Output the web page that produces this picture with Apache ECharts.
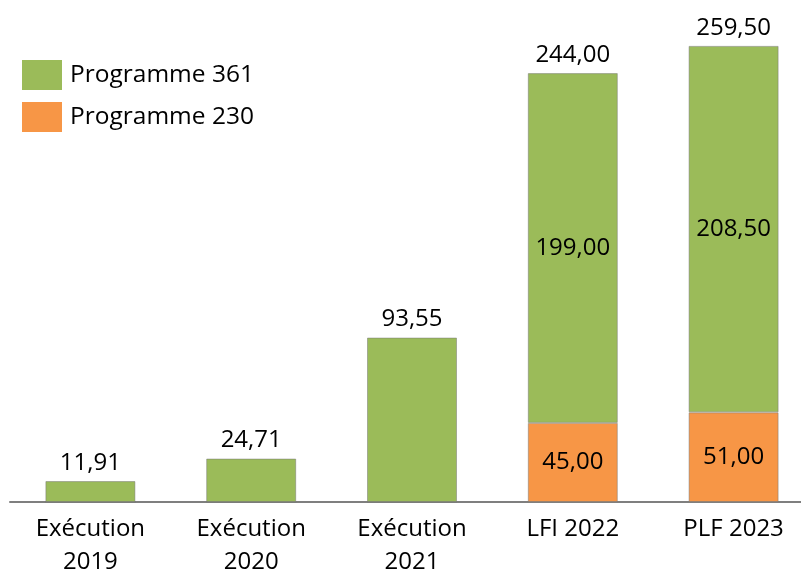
<!DOCTYPE html>
<html>
<head>
<meta charset="utf-8">
<script src="https://cdn.jsdelivr.net/npm/echarts@6/dist/echarts.min.js"></script>
<style>
  html, body { margin: 0; padding: 0; background: #fff; }
  #chart { width: 801px; height: 572px; }
</style>
</head>
<body>
<div id="chart"></div>
<script>
// données
var categories = ["Exécution\n2019", "Exécution\n2020", "Exécution\n2021", "LFI 2022", "PLF 2023"];
var prog230 = [0, 0, 0, 45.00, 51.00];
var prog361 = [11.91, 24.71, 93.55, 199.00, 208.50];
var totals = prog361.map(function (v, i) { return v + prog230[i]; });

function fr(v) {
  return v.toFixed(2).replace(".", ",");
}

var chart = echarts.init(document.getElementById("chart"));
var font = "'Open Sans', 'Noto Sans', sans-serif";

chart.setOption({
  animation: false,
  textStyle: { fontFamily: font },
  grid: { left: 10, top: 45, width: 804, height: 457, containLabel: false, outerBoundsMode: "none" },
  legend: {
    orient: "vertical",
    left: 22,
    top: 60,
    padding: 0,
    itemWidth: 40,
    itemHeight: 30,
    itemGap: 12,
    icon: "rect",
    data: ["Programme 361", "Programme 230"],
    itemStyle: { borderWidth: 0 },
    textStyle: { fontSize: 24.5, color: "#000", fontFamily: font, padding: [0, 0, 0, 3] }
  },
  xAxis: {
    type: "category",
    data: categories,
    axisTick: { show: false },
    axisLine: { lineStyle: { color: "#7f7f7f", width: 2 } },
    axisLabel: {
      fontSize: 24,
      lineHeight: 33,
      color: "#000",
      margin: 11,
      interval: 0,
      fontFamily: font
    }
  },
  yAxis: {
    type: "value",
    min: 0,
    max: 260,
    show: false,
    splitLine: { show: false }
  },
  series: [
    {
      name: "Programme 230",
      type: "bar",
      stack: "total",
      barWidth: 90,
      data: prog230,
      itemStyle: { color: "#F79646", borderColor: "rgba(120,120,120,0.5)", borderWidth: 1 },
      label: {
        show: true,
        position: "inside",
        fontSize: 24,
        color: "#000",
        fontFamily: font,
        formatter: function (p) { return p.value > 0 ? fr(p.value) : ""; }
      }
    },
    {
      name: "Programme 361",
      type: "bar",
      stack: "total",
      barWidth: 90,
      data: prog361,
      itemStyle: { color: "#9BBB59", borderColor: "rgba(120,120,120,0.5)", borderWidth: 1 },
      label: {
        show: true,
        position: "inside",
        fontSize: 24,
        color: "#000",
        fontFamily: font,
        formatter: function (p) { return prog230[p.dataIndex] > 0 ? fr(p.value) : ""; }
      }
    },
    {
      name: "Total",
      type: "bar",
      stack: "total",
      barWidth: 90,
      data: prog361.map(function () { return 0; }),
      itemStyle: { color: "transparent" },
      label: {
        show: true,
        position: "top",
        distance: 6,
        fontSize: 24,
        color: "#000",
        fontFamily: font,
        formatter: function (p) { return fr(totals[p.dataIndex]); }
      }
    }
  ]
});
</script>
</body>
</html>
